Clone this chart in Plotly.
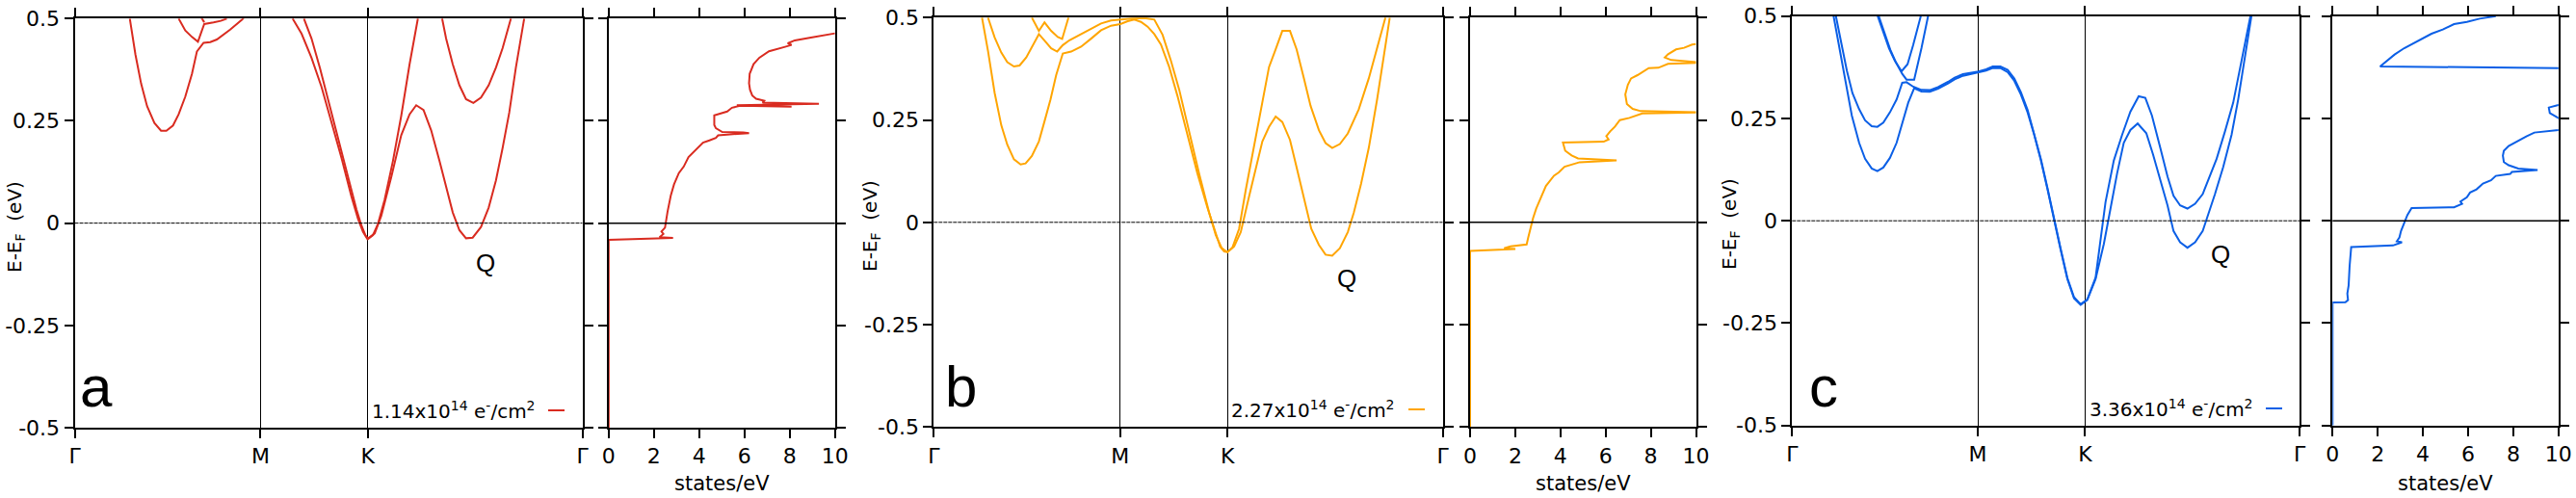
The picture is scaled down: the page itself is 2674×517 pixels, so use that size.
import plotly.graph_objects as go

# ---------------- data ----------------
K_TICKS = [0.0, 0.5774, 0.9107, 1.5774]
K_LABELS = ["Γ", "M", "K", "Γ"]
E_TICKS = [-0.5, -0.25, 0, 0.25, 0.5]
E_LABELS = ["-0.5", "-0.25", "0", "0.25", "0.5"]
DOS_TICKS = [0, 2, 4, 6, 8, 10]
DOS_LABELS = ["0", "2", "4", "6", "8", "10"]

PANEL_LETTERS = ["a", "b", "c"]
DENSITY_LABELS = [
    "1.14x10<sup>14</sup> e<sup>-</sup>/cm<sup>2</sup>",
    "2.27x10<sup>14</sup> e<sup>-</sup>/cm<sup>2</sup>",
    "3.36x10<sup>14</sup> e<sup>-</sup>/cm<sup>2</sup>",
]
COLORS = ["#d92b20", "#ffa500", "#0b5fe6"]

# panel a bands: [k, E(eV)]
A_BAND1 = [[0.1714, 0.5], [0.1889, 0.4118], [0.2065, 0.3409], [0.2250, 0.2858], [0.2478, 0.2449],
           [0.2684, 0.2260], [0.2849, 0.2260], [0.3056, 0.2386], [0.3231, 0.2661], [0.3438, 0.3094],
           [0.3644, 0.3646], [0.3799, 0.4197], [0.4005, 0.4409], [0.4212, 0.4425], [0.4418, 0.4488],
           [0.4831, 0.4732], [0.5213, 0.4984], [0.5250, 0.5020]]
A_BAND2 = [[0.3231, 0.5], [0.3438, 0.4709], [0.3644, 0.4551], [0.3830, 0.4433], [0.3954, 0.4709],
           [0.4026, 0.4866], [0.4315, 0.4906], [0.4542, 0.4945], [0.4728, 0.5]]
A_BAND3 = [[0.3933, 0.503], [0.4026, 0.491]]
A_BAND4 = [[0.6772, 0.5], [0.7051, 0.4630], [0.7360, 0.4039], [0.7670, 0.3331], [0.7980, 0.2465],
           [0.8289, 0.1598], [0.8599, 0.0654], [0.8806, 0.0102], [0.8960, -0.0213], [0.9094, -0.0386],
           [0.9322, -0.0252], [0.9528, 0.0181], [0.9838, 0.1126], [1.0147, 0.2150], [1.0406, 0.2661],
           [1.0612, 0.2882], [1.0839, 0.2764], [1.1077, 0.2268], [1.1335, 0.1520], [1.1541, 0.0890],
           [1.1748, 0.0260], [1.1954, -0.0173], [1.2160, -0.0370], [1.2367, -0.0354], [1.2625, -0.0094],
           [1.2863, 0.0378], [1.3090, 0.1047], [1.3296, 0.1835], [1.3503, 0.2701], [1.3709, 0.3803],
           [1.3967, 0.5]]
A_BAND5 = [[0.7123, 0.5], [0.7360, 0.4512], [0.7618, 0.3803], [0.7928, 0.2858], [0.8238, 0.1913],
           [0.8547, 0.0969], [0.8754, 0.0339], [0.8909, -0.0055], [0.9032, -0.0291], [0.9115, -0.0386],
           [0.9270, -0.0291], [0.9425, -0.0016], [0.9631, 0.0575], [0.9889, 0.1520], [1.0147, 0.2622],
           [1.0406, 0.3882], [1.0664, 0.5]]
A_BAND6 = [[1.1417, 0.5], [1.1541, 0.4512], [1.1748, 0.3882], [1.1954, 0.3370], [1.2160, 0.3031],
           [1.2388, 0.2937], [1.2625, 0.3071], [1.2863, 0.3370], [1.3090, 0.3803], [1.3296, 0.4276],
           [1.3554, 0.5]]

# panel b bands
B_BAND1 = [[0.1495, 0.5], [0.1681, 0.4186], [0.1887, 0.3160], [0.2093, 0.2370], [0.2279, 0.1896],
           [0.2485, 0.1540], [0.2691, 0.1414], [0.2846, 0.1438], [0.3041, 0.1619], [0.3258, 0.1975],
           [0.3454, 0.2528], [0.3619, 0.3002], [0.3794, 0.3594], [0.4000, 0.4123], [0.4258, 0.4171],
           [0.4567, 0.4289], [0.4877, 0.4487], [0.5186, 0.4692], [0.5495, 0.4803], [0.5784, 0.4842],
           [0.6011, 0.4913], [0.6217, 0.4953], [0.6423, 0.4897], [0.6629, 0.4779], [0.6836, 0.4597],
           [0.7042, 0.4344], [0.7299, 0.3791], [0.7557, 0.3081], [0.7867, 0.2133], [0.8176, 0.1185],
           [0.8485, 0.0355], [0.8691, -0.0158], [0.8877, -0.0592], [0.9001, -0.0711], [0.9104, -0.0727],
           [0.9310, -0.0592], [0.9516, -0.0237], [0.9774, 0.0632], [1.0032, 0.1501], [1.0186, 0.1975],
           [1.0392, 0.2330], [1.0599, 0.2583], [1.0805, 0.2449], [1.1042, 0.2014], [1.1248, 0.1343],
           [1.1475, 0.0553], [1.1702, -0.0158], [1.1939, -0.0553], [1.2145, -0.0790], [1.2351, -0.0814],
           [1.2589, -0.0632], [1.2836, -0.0237], [1.3021, 0.0237], [1.3248, 0.0948], [1.3485, 0.1817],
           [1.3743, 0.3002], [1.3949, 0.4028], [1.4135, 0.5]]
B_BAND2 = [[0.1681, 0.5], [0.1887, 0.4518], [0.2093, 0.4147], [0.2279, 0.3910], [0.2485, 0.3807],
           [0.2660, 0.3831], [0.2866, 0.4028], [0.3072, 0.4329], [0.3258, 0.4597], [0.3433, 0.4439],
           [0.3639, 0.4250], [0.3825, 0.4171], [0.4000, 0.4329], [0.4206, 0.4447], [0.4567, 0.4597],
           [0.4877, 0.4724], [0.5186, 0.4858], [0.5495, 0.4929], [0.5784, 0.4953], [0.6114, 0.4976],
           [0.6526, 0.4992], [0.6836, 0.4953], [0.7093, 0.4581], [0.7351, 0.3949], [0.7609, 0.3239],
           [0.7918, 0.2212], [0.8227, 0.1185], [0.8537, 0.0237], [0.8743, -0.0316], [0.8928, -0.0632],
           [0.9104, -0.0727], [0.9258, -0.0616], [0.9465, -0.0158], [0.9671, 0.0790], [0.9929, 0.1896],
           [1.0186, 0.3002], [1.0392, 0.3791], [1.0599, 0.4226], [1.0805, 0.4676], [1.1042, 0.4676],
           [1.1248, 0.4226], [1.1475, 0.3515], [1.1681, 0.2844], [1.1939, 0.2251], [1.2145, 0.1935],
           [1.2351, 0.1817], [1.2589, 0.1912], [1.2836, 0.2172], [1.3176, 0.2765], [1.3485, 0.3515],
           [1.3743, 0.4226], [1.4001, 0.5]]
B_BAND3 = [[0.3041, 0.5], [0.3258, 0.4676], [0.3433, 0.4882], [0.3639, 0.4676], [0.3846, 0.4526],
           [0.3980, 0.4479], [0.4176, 0.5]]

# panel c bands
C_BAND1 = [[0.1289, 0.5], [0.1495, 0.4138], [0.1650, 0.3433], [0.1856, 0.2571], [0.2083, 0.1904],
           [0.2268, 0.1513], [0.2474, 0.1277], [0.2650, 0.1215], [0.2835, 0.1301], [0.3041, 0.1536],
           [0.3248, 0.1904], [0.3423, 0.2375], [0.3609, 0.2884], [0.3794, 0.3237], [0.4021, 0.3158],
           [0.4279, 0.3150], [0.4536, 0.3229], [0.4846, 0.3354], [0.5052, 0.3456], [0.5310, 0.3542],
           [0.5567, 0.3589], [0.5794, 0.3613], [0.6031, 0.3668], [0.6238, 0.3730], [0.6475, 0.3730],
           [0.6702, 0.3629], [0.6908, 0.3417], [0.7114, 0.3080], [0.7320, 0.2649], [0.7526, 0.2100],
           [0.7733, 0.1473], [0.7939, 0.0768], [0.8145, -0.0016], [0.8351, -0.0721], [0.8557, -0.1426],
           [0.8764, -0.1897], [0.8970, -0.2053], [0.9176, -0.1936], [0.9434, -0.1426], [0.9691, -0.0564],
           [0.9898, 0.0298], [1.0104, 0.1160], [1.0310, 0.1904], [1.0516, 0.2218], [1.0743, 0.2375],
           [1.1011, 0.2140], [1.1217, 0.1630], [1.1444, 0.1003], [1.1671, 0.0376], [1.1857, -0.0251],
           [1.2063, -0.0525], [1.2290, -0.0658], [1.2527, -0.0525], [1.2764, -0.0251], [1.2939, 0.0141],
           [1.3145, 0.0650], [1.3403, 0.1317], [1.3661, 0.2100], [1.3867, 0.2962], [1.4073, 0.3981],
           [1.4279, 0.5]]
C_BAND2 = [[0.1361, 0.5], [0.1547, 0.4295], [0.1701, 0.3668], [0.1876, 0.3119], [0.2083, 0.2727],
           [0.2268, 0.2453], [0.2474, 0.2312], [0.2650, 0.2296], [0.2835, 0.2398], [0.3041, 0.2649],
           [0.3248, 0.2962], [0.3423, 0.3370], [0.3557, 0.3386], [0.3763, 0.3276], [0.4021, 0.3197],
           [0.4279, 0.3190], [0.4536, 0.3268], [0.4846, 0.3393], [0.5052, 0.3495], [0.5310, 0.3581],
           [0.5567, 0.3621], [0.5794, 0.3644], [0.6031, 0.3699], [0.6238, 0.3770], [0.6475, 0.3770],
           [0.6702, 0.3683], [0.6908, 0.3472], [0.7114, 0.3135], [0.7320, 0.2712], [0.7526, 0.2139],
           [0.7733, 0.1513], [0.7939, 0.0799], [0.8145, 0.0016], [0.8351, -0.0690], [0.8557, -0.1395],
           [0.8764, -0.1865], [0.8970, -0.2038], [0.9176, -0.1920], [0.9434, -0.1387], [0.9743, 0.0455],
           [1.0001, 0.1473], [1.0259, 0.2100], [1.0516, 0.2665], [1.0774, 0.3041], [1.0980, 0.3002],
           [1.1186, 0.2571], [1.1444, 0.1787], [1.1671, 0.1082], [1.1857, 0.0611], [1.2063, 0.0376],
           [1.2290, 0.0298], [1.2527, 0.0415], [1.2764, 0.0650], [1.2991, 0.1082], [1.3197, 0.1513],
           [1.3455, 0.2179], [1.3712, 0.2884], [1.3970, 0.3903], [1.4248, 0.5]]
C_BAND3 = [[0.2660, 0.5], [0.2835, 0.4608], [0.3011, 0.4216], [0.3196, 0.3903], [0.3402, 0.3652],
           [0.3588, 0.3824], [0.3763, 0.4295], [0.4000, 0.5]]
C_BAND4 = [[0.2691, 0.5], [0.2866, 0.4592], [0.3052, 0.4177], [0.3237, 0.3856], [0.3423, 0.3589],
           [0.3557, 0.3448], [0.3794, 0.3448], [0.4021, 0.4216], [0.4227, 0.5]]

# density of states: [states/eV, E(eV)]
A_DOS = [[0, -0.5], [0, -0.0408], [2.845, -0.0361], [2.248, -0.0345], [2.418, -0.0266], [2.333, -0.0204],
         [2.489, -0.0110], [2.532, 0.0047], [2.603, 0.0282], [2.745, 0.0674], [2.888, 0.0948],
         [3.101, 0.1223], [3.314, 0.1379], [3.528, 0.1614], [3.741, 0.1732], [3.954, 0.1850],
         [4.168, 0.1967], [4.452, 0.2022], [4.737, 0.2085], [4.836, 0.2147], [5.946, 0.2194],
         [6.202, 0.2202], [5.946, 0.2218], [5.021, 0.2226], [4.737, 0.2320], [4.666, 0.2398],
         [4.666, 0.2633], [4.950, 0.2672], [5.235, 0.2727], [5.448, 0.2821], [5.804, 0.2868],
         [8.080, 0.2845], [5.661, 0.2884], [9.289, 0.2915], [6.799, 0.2947], [6.871, 0.2994],
         [6.515, 0.3041], [6.344, 0.3119], [6.245, 0.3260], [6.202, 0.3417], [6.230, 0.3652],
         [6.316, 0.3770], [6.401, 0.3887], [6.657, 0.4044], [7.084, 0.4201], [7.795, 0.4310],
         [8.080, 0.4357], [7.909, 0.4396], [8.222, 0.4467], [8.933, 0.4538], [9.644, 0.4600],
         [10.0, 0.4639]]
B_DOS = [[0, -0.5], [0, -0.0699], [2.006, -0.0651], [1.508, -0.0636], [1.792, -0.0589], [2.504, -0.0542],
         [2.575, -0.0369], [2.674, -0.0133], [2.788, 0.0102], [2.930, 0.0338], [3.073, 0.0534],
         [3.357, 0.0887], [3.713, 0.1138], [3.926, 0.1217], [4.182, 0.1358], [4.566, 0.1421],
         [4.851, 0.1468], [6.486, 0.1515], [4.780, 0.1562], [4.495, 0.1633], [4.211, 0.1750],
         [4.111, 0.1947], [5.917, 0.1970], [6.131, 0.2025], [6.031, 0.2104], [6.202, 0.2221],
         [6.415, 0.2339], [6.629, 0.2496], [7.055, 0.2551], [7.624, 0.2661], [10.4, 0.2684],
         [7.553, 0.2716], [7.198, 0.2771], [6.942, 0.2889], [6.871, 0.3124], [6.984, 0.3359],
         [7.127, 0.3516], [7.411, 0.3595], [7.909, 0.3768], [8.336, 0.3776], [8.762, 0.3870],
         [10.3, 0.3901], [8.905, 0.3964], [8.620, 0.4027], [8.762, 0.4105], [9.118, 0.4223],
         [9.474, 0.4262], [9.829, 0.4341], [10.0, 0.4356]]
C_DOS = [[0, -0.5], [0, -0.1998], [0.569, -0.1991], [0.683, -0.1936], [0.654, -0.1779], [0.711, -0.1583],
         [0.754, -0.1113], [0.825, -0.0643], [2.674, -0.0603], [3.073, -0.0525], [2.845, -0.0502],
         [2.959, -0.0408], [3.030, -0.0251], [3.172, -0.0055], [3.314, 0.0141], [3.499, 0.0313],
         [5.377, 0.0329], [5.733, 0.0415], [5.661, 0.0470], [5.946, 0.0572], [6.088, 0.0690],
         [6.373, 0.0768], [6.657, 0.0909], [7.013, 0.0987], [7.226, 0.1097], [7.866, 0.1144],
         [7.937, 0.1191], [9.075, 0.1238], [8.222, 0.1277], [7.795, 0.1356], [7.582, 0.1434],
         [7.539, 0.1591], [7.582, 0.1708], [7.795, 0.1826], [8.222, 0.1959], [8.578, 0.2061],
         [8.933, 0.2155], [10.0, 0.2218], [11.0, 0.2350], [10.0, 0.2508], [9.616, 0.2633],
         [9.573, 0.2766], [10.0, 0.2829], [11.0, 0.3000], [11.0, 0.3600], [10.0, 0.3730],
         [2.105, 0.3770], [2.745, 0.4060], [3.172, 0.4216], [3.812, 0.4397], [4.381, 0.4569],
         [4.879, 0.4671], [5.377, 0.4804], [5.946, 0.4859], [6.515, 0.4937], [7.226, 0.5000]]

PANEL_BANDS = [
    [A_BAND1, A_BAND2, A_BAND3, A_BAND4, A_BAND5, A_BAND6],
    [B_BAND1, B_BAND2, B_BAND3],
    [C_BAND1, C_BAND2, C_BAND3, C_BAND4],
]
PANEL_DOS = [A_DOS, B_DOS, C_DOS]

# ---------------- layout geometry (pixels) ----------------
W, H = 2674, 517
GEOM = [
    dict(bx=(77.5, 604.5), dx=(631.8, 866.8), y=(19.3, 444.0), ytitle=(16, 236), letter=(100, 401),
         q=(504, 272.5), leg=(558, 426), legx=569),
    dict(bx=(969.3, 1497.5), dx=(1526.0, 1760.5), y=(18.3, 443.3), ytitle=(904, 235), letter=(997, 401),
         q=(1398, 289), leg=(1450, 425), legx=1462),
    dict(bx=(1860.3, 2387.0), dx=(2421.3, 2655.8), y=(16.7, 441.7), ytitle=(1796, 233), letter=(1893, 401),
         q=(2305, 264), leg=(2341, 424), legx=2352),
]


def fx(px):
    return px / W


def fy(py):
    return 1 - py / H


FONT = "DejaVu Sans"
TICKFONT = dict(family=FONT, size=22, color="black")

fig = go.Figure()
layout = dict(
    width=W, height=H, margin=dict(l=0, r=0, t=0, b=0, autoexpand=False),
    paper_bgcolor="white", plot_bgcolor="white", showlegend=False,
    font=dict(family=FONT, size=20, color="black"),
)
annotations = []
shapes = []

for i in range(3):
    g = GEOM[i]
    color = COLORS[i]
    nb, nd = 2 * i + 1, 2 * i + 2
    xb = "x" if nb == 1 else f"x{nb}"
    yb = "y" if nb == 1 else f"y{nb}"
    xd, yd = f"x{nd}", f"y{nd}"
    ydom = [fy(g["y"][1]), fy(g["y"][0])]

    for band in PANEL_BANDS[i]:
        fig.add_trace(go.Scatter(x=[p[0] for p in band], y=[p[1] for p in band], mode="lines",
                                 line=dict(color=color, width=2), xaxis=xb, yaxis=yb,
                                 hoverinfo="skip"))
    dos = PANEL_DOS[i]
    fig.add_trace(go.Scatter(x=[p[0] for p in dos], y=[p[1] for p in dos], mode="lines",
                             line=dict(color=color, width=2), xaxis=xd, yaxis=yd, hoverinfo="skip"))

    axcommon = dict(showline=True, linecolor="black", linewidth=2, ticks="outside", ticklen=9,
                    tickwidth=2, tickcolor="black", mirror="ticks", zeroline=False,
                    tickfont=TICKFONT, automargin=False)
    layout["xaxis" if nb == 1 else f"xaxis{nb}"] = dict(
        axcommon, domain=[fx(g["bx"][0]), fx(g["bx"][1])], anchor=yb, range=[0, K_TICKS[-1]],
        tickmode="array", tickvals=K_TICKS, ticktext=K_LABELS, showgrid=True, gridcolor="black",
        gridwidth=1)
    layout["yaxis" if nb == 1 else f"yaxis{nb}"] = dict(
        axcommon, domain=ydom, anchor=xb, range=[-0.5, 0.5], tickmode="array", tickvals=E_TICKS,
        ticktext=E_LABELS, showgrid=False)
    layout[f"xaxis{nd}"] = dict(
        axcommon, domain=[fx(g["dx"][0]), fx(g["dx"][1])], anchor=yd, range=[0, 10],
        tickmode="array", tickvals=DOS_TICKS, ticktext=DOS_LABELS, showgrid=False)
    layout[f"yaxis{nd}"] = dict(
        axcommon, domain=ydom, anchor=xd, range=[-0.5, 0.5], tickmode="array", tickvals=E_TICKS,
        showticklabels=False, showgrid=False)

    # Fermi level lines
    shapes.append(dict(type="line", xref=f"{xb} domain", yref=yb, x0=0, x1=1, y0=0, y1=0,
                       line=dict(color="black", width=1, dash="4px,1px")))
    shapes.append(dict(type="line", xref=f"{xd} domain", yref=yd, x0=0, x1=1, y0=0, y1=0,
                       line=dict(color="black", width=1.5)))

    # legend-like sample line
    shapes.append(dict(type="line", xref="paper", yref="paper", x0=fx(g["legx"]), x1=fx(g["legx"] + 17),
                       y0=fy(g["leg"][1]), y1=fy(g["leg"][1]), line=dict(color=color, width=2)))

    annotations.append(dict(text=DENSITY_LABELS[i], xref="paper", yref="paper",
                            x=fx(g["leg"][0]), y=fy(g["leg"][1]), xanchor="right", yanchor="middle",
                            showarrow=False, font=dict(family=FONT, size=20, color="black")))
    annotations.append(dict(text="Q", xref="paper", yref="paper", x=fx(g["q"][0]), y=fy(g["q"][1]),
                            xanchor="center", yanchor="middle", showarrow=False,
                            font=dict(family="Liberation Sans", size=26, color="black")))
    annotations.append(dict(text=PANEL_LETTERS[i], xref="paper", yref="paper",
                            x=fx(g["letter"][0]), y=fy(g["letter"][1]), xanchor="center",
                            yanchor="middle", showarrow=False,
                            font=dict(family="Liberation Sans", size=60, color="black")))
    annotations.append(dict(text="E-E<sub>F</sub>&nbsp;&nbsp;(eV)", xref="paper", yref="paper",
                            x=fx(g["ytitle"][0]), y=fy(g["ytitle"][1]), xanchor="center",
                            yanchor="middle", textangle=-90, showarrow=False,
                            font=dict(family=FONT, size=20, color="black")))
    annotations.append(dict(text="states/eV", xref="paper", yref="paper",
                            x=fx((g["dx"][0] + g["dx"][1]) / 2), y=fy(502), xanchor="center",
                            yanchor="middle", showarrow=False,
                            font=dict(family=FONT, size=21, color="black")))

layout["annotations"] = annotations
layout["shapes"] = shapes
fig.update_layout(**layout)
fig.write_html("out.html", config={"displayModeBar": False},
               post_script="document.body.style.margin='0';document.body.style.overflow='hidden';")
